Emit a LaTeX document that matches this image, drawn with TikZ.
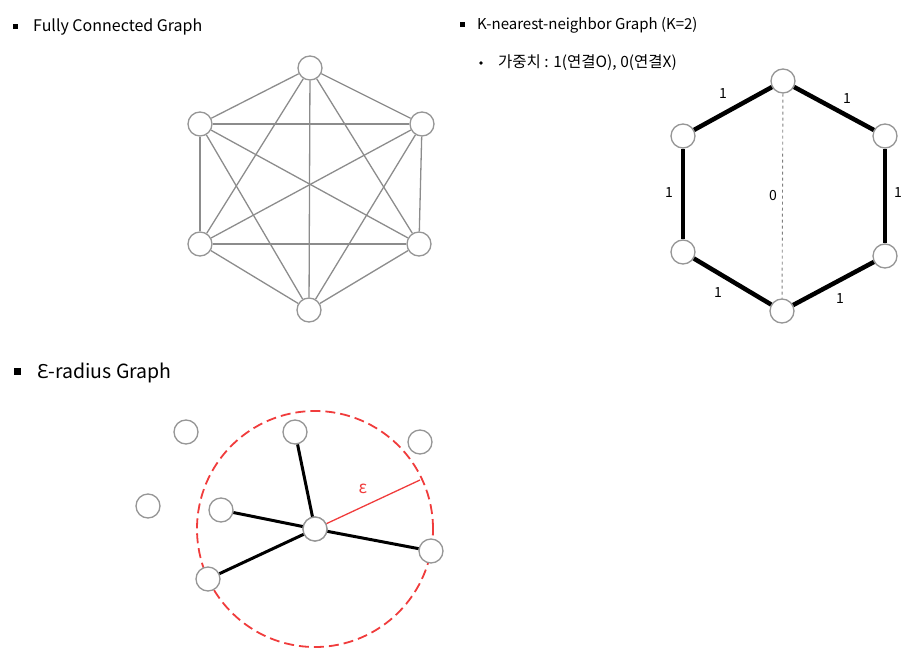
\documentclass[tikz,border=0pt]{standalone}
\usepackage{fontspec}
\setmainfont{Noto Sans CJK KR}
\newfontfamily\greekfont{Noto Sans}
\usetikzlibrary{positioning}
\definecolor{epsred}{RGB}{240,60,60}
\definecolor{rimgray}{RGB}{150,150,150}
\tikzset{
  vertex/.style={circle, draw=rimgray, fill=white, line width=1.3pt, minimum size=24pt, inner sep=0pt},
  fulledge/.style={draw=gray!90, line width=1.3pt},
  knnedge/.style={draw=black, line width=4.5pt},
  zeroedge/.style={draw=gray, dashed, line width=0.9pt},
  epsedge/.style={draw=black, line width=3pt},
  weight/.style={font=\fontsize{14}{16}\selectfont, inner sep=0pt},
  title/.style={anchor=west, font=\fontsize{15}{17}\selectfont, inner sep=0pt},
  bulletbox/.style={fill=black, minimum size=5pt, inner sep=0pt},
}
\begin{document}
\begin{tikzpicture}[x=1pt,y=-1pt]
\useasboundingbox (0,0) rectangle (921,661);

% Fully connected graph
\node[bulletbox] (fcbullet) at (15,27) {};
\node[title, font=\fontsize{16}{18}\selectfont] (fctitle) at (33,27) {Fully Connected Graph};
\foreach \n/\x/\y in {1/310/68, 2/422/124, 3/419/244, 4/309/310, 5/200/244, 6/200/124}
  \node[vertex] (fc\n) at (\x,\y) {};
\foreach \i in {1,...,5}{
  \pgfmathtruncatemacro\nxt{\i+1}
  \foreach \j in {\nxt,...,6}
    \draw[fulledge] (fc\i) -- (fc\j);
}

% K-nearest-neighbor graph
\node[bulletbox] (knnbullet) at (462,25) {};
\node[title] (knntitle) at (477,25) {K-nearest-neighbor Graph (K=2)};
\fill (481,63) circle (1.8pt);
\node[title, font=\fontsize{15.5}{17}\selectfont] (knnsub) at (498,63) {가중치 : 1(연결O), 0(연결X)};
\foreach \n/\x/\y in {1/783/81, 2/885/136, 3/885/256, 4/782/311, 5/683/252, 6/683/136}
  \node[vertex] (kn\n) at (\x,\y) {};
\draw[knnedge] (kn1) -- (kn2);
\draw[knnedge] (kn2) -- (kn3);
\draw[knnedge] (kn3) -- (kn4);
\draw[knnedge] (kn4) -- (kn5);
\draw[knnedge] (kn5) -- (kn6);
\draw[knnedge] (kn6) -- (kn1);
\draw[zeroedge] (kn1) -- (kn4);
\node[weight] (w61) at (723,94) {1};
\node[weight] (w12) at (847,99) {1};
\node[weight] (w56) at (669,193) {1};
\node[weight] (w14) at (773,196) {0};
\node[weight] (w23) at (898,193) {1};
\node[weight] (w45) at (718,293) {1};
\node[weight] (w34) at (840,299) {1};

% epsilon-radius graph
\node[bulletbox, minimum size=7pt] (epsbullet) at (17,371) {};
\node[title, font=\fontsize{19.5}{22}\selectfont] (epstitle) at (37,373) {{\greekfont Ɛ}-radius Graph};
\node[vertex] (ec) at (315,529) {};
\draw[epsred, dashed, dash pattern=on 10pt off 5pt, line width=1.8pt] (ec) circle (118pt);
\coordinate (erim) at (420,480);
\draw[epsred, line width=1.3pt] (ec) -- (erim);
\node[text=epsred, font=\fontsize{17}{19}\selectfont, inner sep=0pt] (epslabel) at (363,489) {ε};
\foreach \n/\x/\y in {1/295/432, 2/221/510, 3/431/551, 4/208/579, 5/186/432, 6/148/506, 7/420/442}
  \node[vertex] (ev\n) at (\x,\y) {};
\node[vertex] at (ec) {};
\foreach \n in {1,...,4}
  \draw[epsedge] (ec) -- (ev\n);
\end{tikzpicture}
\end{document}
